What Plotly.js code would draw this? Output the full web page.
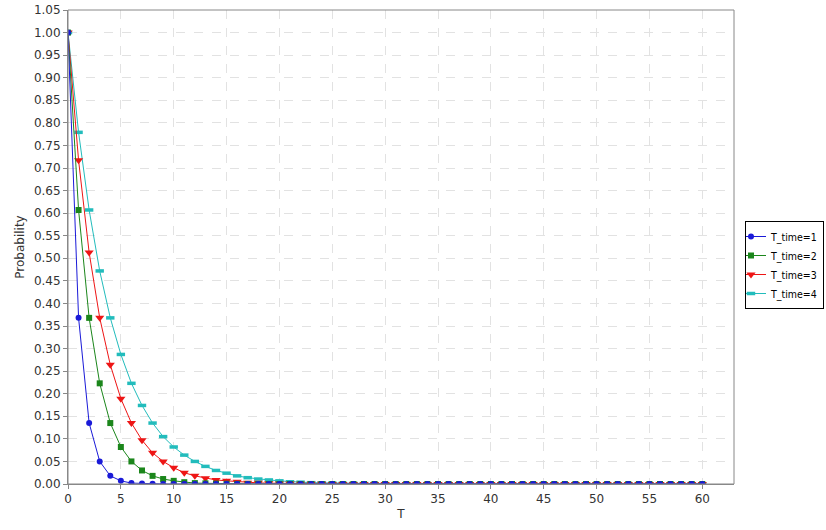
<!DOCTYPE html>
<html>
<head>
<meta charset="utf-8">
<script src="https://cdn.plot.ly/plotly-3.0.1.min.js"></script>
<style>
  html, body { margin: 0; padding: 0; background: #fff; }
  #chart { width: 826px; height: 530px; }
</style>
</head>
<body>
<div id="chart"></div>
<script>
var tValues = [0,1,2,3,4,5,6,7,8,9,10,11,12,13,14,15,16,17,18,19,20,
  21,22,23,24,25,26,27,28,29,30,31,32,33,34,35,36,37,38,39,40,
  41,42,43,44,45,46,47,48,49,50,51,52,53,54,55,56,57,58,59,60];

var pTime1 = [1.000,0.368,0.135,0.050,0.018,0.007,0.002,0.001,0.0003,0.0001,0,
  0,0,0,0,0,0,0,0,0,0,
  0,0,0,0,0,0,0,0,0,0,
  0,0,0,0,0,0,0,0,0,0,
  0,0,0,0,0,0,0,0,0,0,
  0,0,0,0,0,0,0,0,0,0];

var pTime2 = [1.000,0.607,0.368,0.223,0.135,0.082,0.050,0.030,0.018,0.011,0.007,
  0.004,0.002,0.0015,0.0009,0.0006,0.0003,0.0002,0.0001,0.0001,0,
  0,0,0,0,0,0,0,0,0,0,
  0,0,0,0,0,0,0,0,0,0,
  0,0,0,0,0,0,0,0,0,0,
  0,0,0,0,0,0,0,0,0,0];

var pTime3 = [1.000,0.717,0.513,0.368,0.264,0.189,0.135,0.097,0.069,0.050,0.036,
  0.025,0.018,0.013,0.009,0.007,0.005,0.003,0.0025,0.0018,0.0013,
  0.0009,0.0006,0.0005,0.0003,0.0002,0.0002,0.0001,0.0001,0.0001,0,
  0,0,0,0,0,0,0,0,0,0,
  0,0,0,0,0,0,0,0,0,0,
  0,0,0,0,0,0,0,0,0,0];

var pTime4 = [1.000,0.779,0.607,0.472,0.368,0.287,0.223,0.174,0.135,0.105,0.082,
  0.064,0.050,0.039,0.030,0.024,0.018,0.014,0.011,0.009,0.007,
  0.005,0.004,0.003,0.0025,0.0019,0.0015,0.0012,0.0009,0.0007,0.0006,
  0.0004,0.0003,0.0003,0.0002,0.0002,0.0001,0.0001,0.0001,0.0001,0,
  0,0,0,0,0,0,0,0,0,0,
  0,0,0,0,0,0,0,0,0,0];

var seriesNames = ['T_time=1','T_time=2','T_time=3','T_time=4'];

function mkTrace(y, name, color, symbol, size, lw) {
  return {
    x: tValues, y: y, name: name,
    type: 'scatter', mode: 'lines+markers',
    line: {color: color, width: 1},
    marker: {color: color, symbol: symbol, size: size,
             line: {color: color, width: lw || 0}}
  };
}

// drawn last-to-first so the blue series sits on top
var data = [
  mkTrace(pTime4, seriesNames[3], '#22bcbc', 'line-ew', 6, 3.5),
  mkTrace(pTime3, seriesNames[2], '#ee1515', 'triangle-down', 8),
  mkTrace(pTime2, seriesNames[1], '#1b861b', 'square', 6),
  mkTrace(pTime1, seriesNames[0], '#1a1ad8', 'circle', 6)
];

var axisFont = {family: 'DejaVu Sans, sans-serif', size: 12, color: '#333'};

var layout = {
  width: 826, height: 530,
  margin: {l: 68, r: 92, t: 10, b: 46},
  paper_bgcolor: '#fff',
  plot_bgcolor: '#fff',
  showlegend: true,
  legend: {
    xref: 'container', yref: 'container',
    x: 745 / 826, y: 0.5, xanchor: 'left', yanchor: 'middle',
    traceorder: 'reversed',
    bordercolor: '#000', borderwidth: 1,
    font: {family: 'DejaVu Sans Condensed, Liberation Sans, sans-serif', size: 10.5, color: '#000'},
    itemwidth: 30, indentation: -15, tracegroupgap: 0
  },
  xaxis: {
    range: [0, 63],
    tick0: 0, dtick: 5,
    showgrid: true, gridcolor: '#e2e2e2', griddash: 'dash', gridwidth: 1,
    zeroline: false,
    showline: true, linecolor: '#888', mirror: false,
    ticks: 'outside', ticklen: 4, tickcolor: '#888',
    tickfont: axisFont,
    title: {text: 'T', font: axisFont, standoff: 4}
  },
  yaxis: {
    range: [0, 1.05],
    tick0: 0, dtick: 0.05, tickformat: '.2f',
    showgrid: true, gridcolor: '#e2e2e2', griddash: 'dash', gridwidth: 1,
    zeroline: false,
    showline: true, linecolor: '#888', mirror: false,
    ticks: 'outside', ticklen: 4, tickcolor: '#888',
    tickfont: axisFont,
    title: {text: 'Probability', font: axisFont, standoff: 6}
  },
  shapes: [{
    type: 'rect', xref: 'paper', yref: 'paper',
    x0: 0, x1: 1, y0: 0, y1: 1,
    line: {color: '#888', width: 1}, fillcolor: 'rgba(0,0,0,0)'
  }]
};

Plotly.newPlot('chart', data, layout, {displayModeBar: false, staticPlot: true});
</script>
</body>
</html>
